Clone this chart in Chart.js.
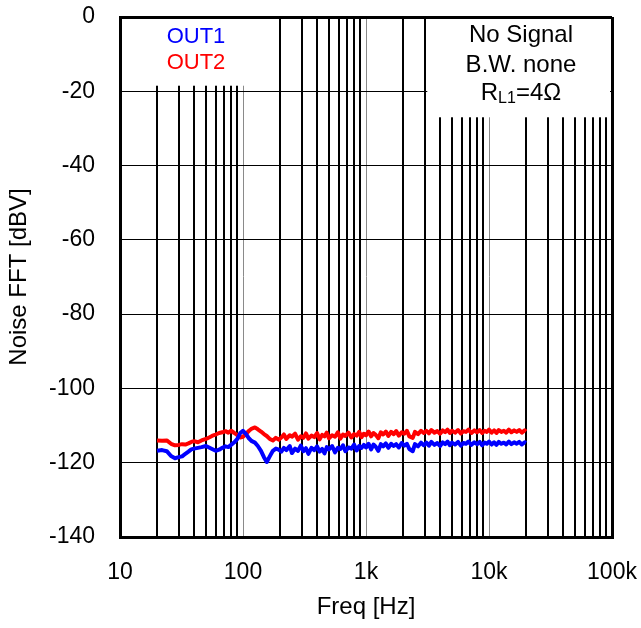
<!DOCTYPE html>
<html>
<head>
<meta charset="utf-8">
<script src="https://cdn.jsdelivr.net/npm/chart.js@4"></script>
<style>
  html, body { margin: 0; padding: 0; background: #fff; }
  #wrap { width: 641px; height: 628px; }
</style>
</head>
<body>
<div id="wrap"><canvas id="myChart" width="641" height="628"></canvas></div>
<script>
// frequency points [Hz]
var freqHz = [20, 22, 24, 26, 28, 30, 32, 34, 36, 38, 40, 43, 46, 50, 53, 56, 60, 64, 68, 72,
  76, 80, 85, 90, 95, 100, 106, 112, 118, 125, 132, 140, 148, 156, 165, 175, 185, 195, 205, 215,
  225, 240, 250, 265, 280, 295, 310, 325, 340, 360, 380, 400, 420, 440, 460, 480, 500, 530, 560, 590,
  620, 650, 680, 720, 760, 800, 840, 880, 920, 960, 1000, 1050, 1100, 1150, 1200, 1260, 1320, 1380, 1450, 1520,
  1600, 1680, 1760, 1850, 1950, 2050, 2150, 2250, 2400, 2500, 2650, 2800, 2950, 3100, 3250, 3400, 3600, 3800, 4000, 4200,
  4400, 4600, 4800, 5000, 5300, 5600, 5900, 6200, 6500, 6800, 7200, 7600, 8000, 8400, 8800, 9200, 9600, 10000, 10500, 11000,
  11500, 12000, 12600, 13200, 13800, 14500, 15200, 16000, 16800, 17600, 18500, 19500, 20000]

// OUT1 noise [dBV]
var out1 = [-116.8, -116.6, -116.9, -118.2, -118.8, -118.5, -118.3, -117.6, -117.0, -116.4, -116.2, -116.0, -115.8, -115.5, -115.9, -116.3, -116.8, -116.5, -116.0, -115.6,
  -115.8, -115.2, -114.5, -113.6, -112.0, -111.4, -112.3, -113.5, -114.2, -114.6, -115.5, -116.8, -118.5, -119.8, -118.3, -116.8, -116.2, -116.5, -117.0, -116.0,
  -116.6, -115.5, -117.4, -116.2, -116.8, -115.4, -116.9, -116.1, -117.6, -116.0, -116.6, -115.6, -117.0, -116.3, -117.5, -115.8, -116.4, -115.5, -117.2, -116.0,
  -116.3, -115.3, -116.9, -115.9, -116.2, -115.1, -116.7, -115.5, -116.0, -115.2, -115.9, -114.9, -116.4, -115.1, -115.7, -116.8, -115.0, -115.6, -114.8, -116.0,
  -114.9, -115.5, -115.0, -115.9, -114.7, -115.4, -114.9, -116.3, -116.9, -115.0, -115.6, -114.6, -115.3, -114.6, -115.4, -114.4, -115.2, -114.7, -115.5, -114.5,
  -115.0, -114.3, -115.3, -114.6, -115.1, -114.4, -115.4, -114.7, -114.9, -114.3, -115.2, -114.5, -115.0, -114.4, -115.3, -114.6, -114.9, -114.3, -115.1, -114.5,
  -115.2, -114.4, -114.9, -114.6, -115.1, -114.3, -115.0, -114.5, -114.9, -114.4, -115.1, -114.5, -114.7]

// OUT2 noise [dBV]
var out2 = [-114.0, -114.1, -114.0, -114.9, -115.3, -115.2, -115.0, -115.1, -114.8, -114.4, -114.2, -114.5, -114.0, -113.6, -113.2, -112.8, -112.4, -112.0, -111.8, -111.5,
  -111.9, -111.4, -112.0, -112.6, -113.2, -113.0, -112.2, -111.4, -110.8, -110.5, -111.0, -111.6, -112.3, -112.8, -113.6, -114.0, -113.3, -113.8, -113.2, -112.4,
  -113.6, -112.6, -113.0, -112.2, -113.8, -112.9, -113.3, -112.1, -113.5, -112.7, -113.1, -112.0, -113.7, -112.5, -112.9, -111.9, -113.4, -112.6, -113.0, -111.8,
  -113.5, -112.4, -112.8, -111.9, -113.2, -112.3, -112.7, -111.7, -113.1, -112.2, -112.6, -111.6, -112.9, -112.0, -112.5, -113.4, -111.8, -112.4, -111.6, -112.8,
  -111.7, -112.3, -111.5, -112.7, -111.8, -112.2, -111.4, -112.9, -113.3, -111.7, -112.3, -111.4, -112.0, -111.4, -112.1, -111.2, -111.9, -111.5, -112.2, -111.3,
  -111.8, -111.1, -112.0, -111.4, -111.9, -111.2, -112.1, -111.5, -111.7, -111.1, -112.0, -111.3, -111.8, -111.2, -112.0, -111.4, -111.7, -111.1, -111.9, -111.3,
  -112.0, -111.2, -111.7, -111.4, -111.9, -111.1, -111.8, -111.3, -111.7, -111.2, -111.9, -111.3, -111.6]

// grid positions and labels
var xGrid = [10, 20, 30, 40, 50, 60, 70, 80, 90, 100, 200, 300, 400, 500, 600, 700, 800, 900,
  1000, 2000, 3000, 4000, 5000, 6000, 7000, 8000, 9000, 10000, 20000, 30000, 40000, 50000,
  60000, 70000, 80000, 90000, 100000]
var xLabelValues = [10, 100, 1000, 10000, 100000]
var xLabels = ['10', '100', '1k', '10k', '100k']

var legendNames = ['OUT1', 'OUT2']
var noteLines = ['No Signal', 'B.W. none']

var FONT = '"Liberation Sans", Arial, sans-serif'
Chart.defaults.font.family = FONT
Chart.defaults.font.size = 23
Chart.defaults.color = '#000'

function pts(ys) {
  var a = []
  for (var i = 0; i < freqHz.length; i++) a.push({x: freqHz[i], y: ys[i]})
  return a
}

// white note boxes drawn over the grid, then the texts
var boxes = {
  id: 'boxes',
  beforeDatasetsDraw: function(chart) {
    var c = chart.ctx, xs = chart.scales.x, ys = chart.scales.y
    c.save()
    c.fillStyle = '#fff'
    // left box: 10..115 Hz, 0..-18.5 dB
    var l = xs.getPixelForValue(10) + 2, r = xs.getPixelForValue(115)
    var t = ys.getPixelForValue(0) + 2, b = ys.getPixelForValue(-18.5)
    c.fillRect(l, t, r - l, b - t)
    // right box: 3150..100k Hz, 0..-27 dB
    l = xs.getPixelForValue(3150); r = xs.getPixelForValue(100000) - 2
    b = ys.getPixelForValue(-27)
    c.fillRect(l, t, r - l, b - t)

    c.font = '22px ' + FONT
    c.textAlign = 'center'
    c.textBaseline = 'middle'
    c.fillStyle = '#0000ff'
    c.fillText(legendNames[0], xs.getPixelForValue(41.5), ys.getPixelForValue(-5.4))
    c.fillStyle = '#ff0000'
    c.fillText(legendNames[1], xs.getPixelForValue(41.5), ys.getPixelForValue(-12.4))

    c.fillStyle = '#000'
    c.font = '24px ' + FONT
    var cx = xs.getPixelForValue(18200)
    c.fillText(noteLines[0], cx, ys.getPixelForValue(-4.9))
    c.fillText(noteLines[1], cx, ys.getPixelForValue(-12.9))

    // R_L1=4Ω with subscript
    var y3 = ys.getPixelForValue(-20.6)
    c.textAlign = 'left'
    var w1 = c.measureText('R').width, w3 = c.measureText('=4Ω').width
    c.font = '16px ' + FONT
    var w2 = c.measureText('L1').width
    var x0 = cx - (w1 + w2 + w3) / 2
    c.font = '24px ' + FONT
    c.fillText('R', x0, y3)
    c.font = '16px ' + FONT
    c.fillText('L1', x0 + w1, y3 + 5)
    c.font = '24px ' + FONT
    c.fillText('=4Ω', x0 + w1 + w2, y3)
    c.restore()
  }
}

var ctx = document.getElementById('myChart').getContext('2d')
var chart = new Chart(ctx, {
  type: 'line',
  data: {
    datasets: [{
      label: legendNames[0],
      data: pts(out1),
      borderColor: '#0000ff',
      borderWidth: 4,
      borderJoinStyle: 'round',
      pointRadius: 0,
      fill: false
    }, {
      label: legendNames[1],
      data: pts(out2),
      borderColor: '#ff0000',
      borderWidth: 4,
      borderJoinStyle: 'round',
      pointRadius: 0,
      fill: false
    }]
  },
  options: {
    responsive: false,
    animation: false,
    events: [],
    layout: { padding: { left: 0, right: 29, top: 17, bottom: 0 } },
    plugins: { legend: { display: false }, tooltip: { enabled: false } },
    scales: {
      x: {
        type: 'logarithmic',
        min: 10,
        max: 100000,
        afterBuildTicks: function(s) {
          s.ticks = xGrid.map(function(v) { return {value: v} })
        },
        afterFit: function(s) {
          s.height = 91
          s.paddingLeft = 0
          s.paddingRight = 0
        },
        ticks: {
          autoSkip: false,
          maxRotation: 0,
          minRotation: 0,
          padding: 22,
          callback: function(v) {
            var i = xLabelValues.indexOf(v)
            return i >= 0 ? xLabels[i] : ''
          }
        },
        grid: {
          drawTicks: false,
          color: function(c) {
            var v = c.tick ? c.tick.value : 0
            return (v == 100 || v == 1000 || v == 10000) ? '#8a8a8a' : '#000'
          },
          lineWidth: function(c) {
            var v = c.tick ? c.tick.value : 0
            if (v == 10 || v == 100000) return 3
            return (v == 100 || v == 1000 || v == 10000) ? 1 : 2
          }
        },
        border: { color: '#000', width: 3 },
        title: { display: true, text: 'Freq [Hz]', font: { size: 24 }, padding: { top: 0, bottom: 6 } }
      },
      y: {
        min: -140,
        max: 0,
        afterFit: function(s) {
          s.width = 120
          s.paddingTop = 0
          s.paddingBottom = 0
        },
        ticks: {
          stepSize: 20,
          padding: 25,
          callback: function(v) { return String(v) }
        },
        grid: {
          drawTicks: false,
          color: '#000',
          lineWidth: function(c) {
            var v = c.tick ? c.tick.value : 0
            return (v == 0 || v == -140) ? 3 : 1
          }
        },
        border: { color: '#000', width: 3 },
        title: { display: true, text: 'Noise FFT [dBV]', font: { size: 24 }, padding: { top: 5, bottom: 0 } }
      }
    }
  },
  plugins: [boxes]
})
</script>
</body>
</html>
